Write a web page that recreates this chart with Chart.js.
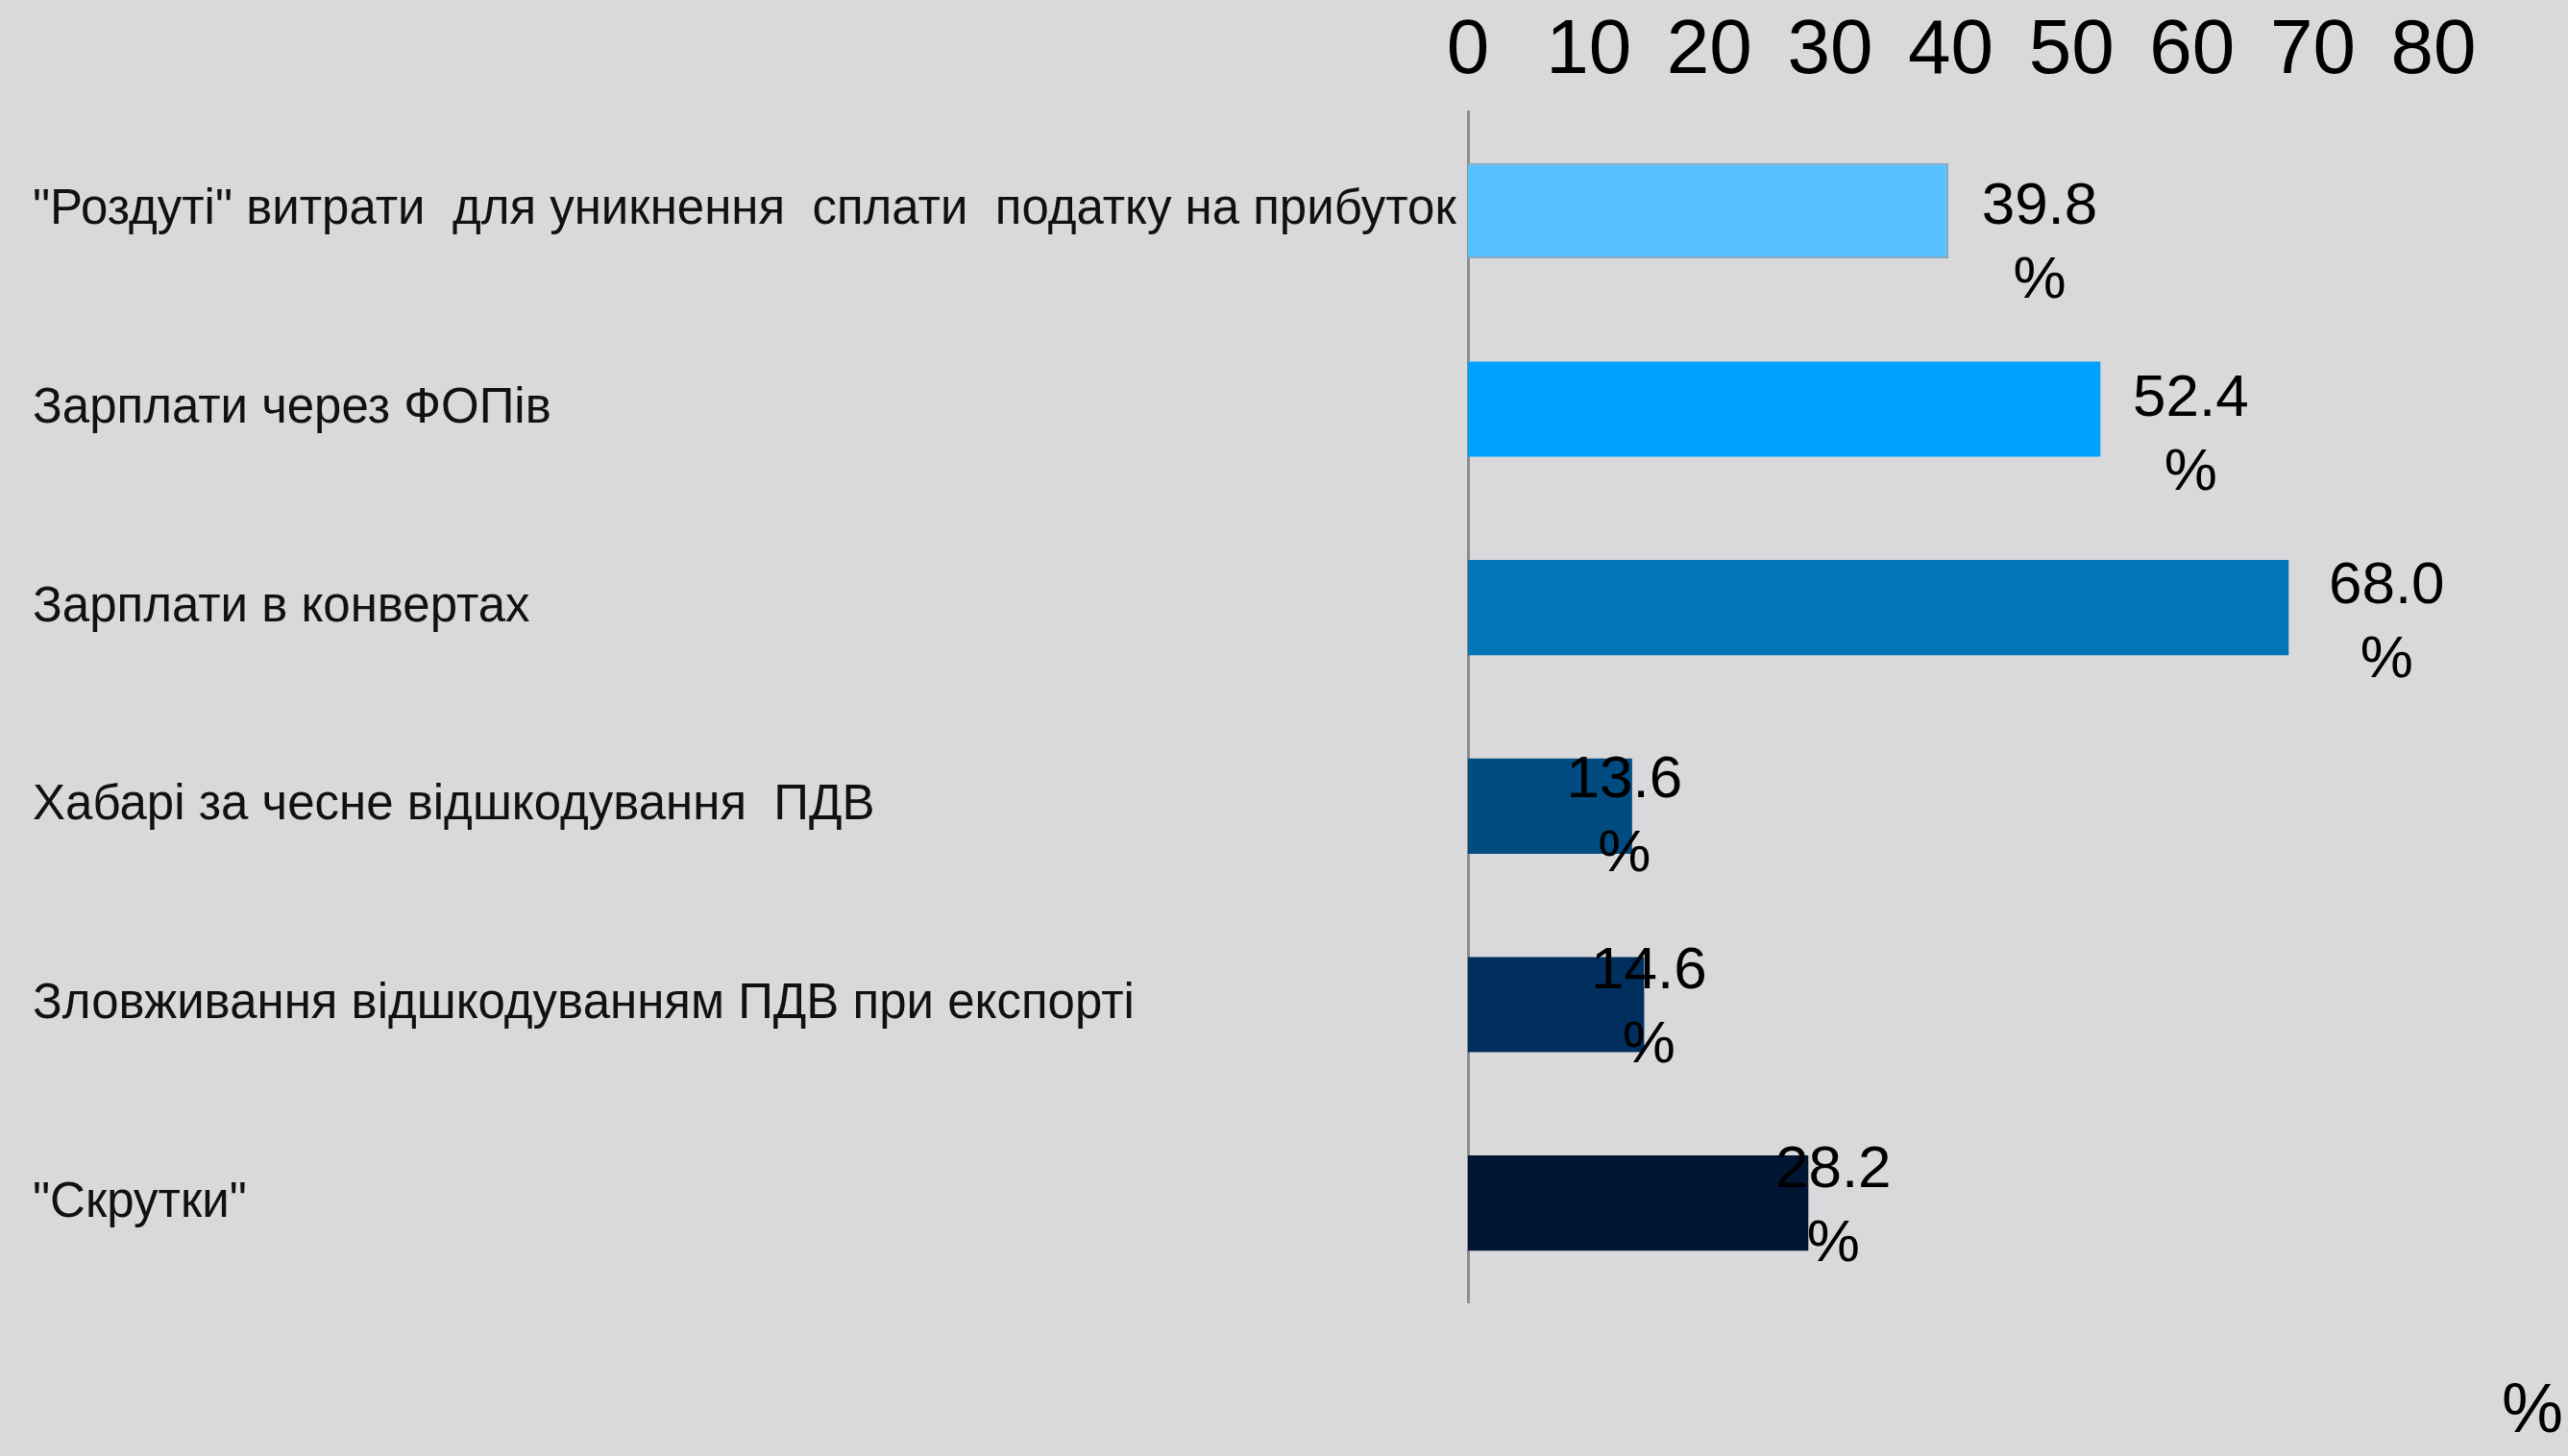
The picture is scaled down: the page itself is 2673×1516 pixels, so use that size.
<!DOCTYPE html>
<html>
<head>
<meta charset="utf-8">
<script src="https://cdn.jsdelivr.net/npm/chart.js@4.4.0/dist/chart.umd.min.js"></script>
<style>
    html, body { margin: 0; padding: 0; background: #d9d9db; }
    #wrap { position: relative; width: 2673px; height: 1516px; }
    #unit {
        position: absolute; left: 2604px; top: 1425px;
        font-family: "Liberation Sans", Arial, sans-serif; font-size: 72px; color: #000;
    }
</style>
</head>
<body>
<div id="wrap">
    <canvas id="chart"></canvas>
    <div id="unit">%</div>
</div>
<script>
const categories = [
    '"Роздуті" витрати  для уникнення  сплати  податку на прибуток',
    'Зарплати через ФОПів',
    'Зарплати в конвертах',
    'Хабарі за чесне відшкодування  ПДВ',
    'Зловживання відшкодуванням ПДВ при експорті',
    '"Скрутки"'
];
const values = [39.8, 52.4, 68.0, 13.6, 14.6, 28.2];
const barColors = ['#58c1ff', '#00a2ff', '#0075b8', '#004b80', '#002f5f', '#001633'];
const tickValues = [0, 10, 20, 30, 40, 50, 60, 70, 80];

// label placement relative to bar end / bar centre (px)
const labelDx = [95, 94, 102, -8, 5, 26];
const labelDy = [-3, -10, -22, -26, -34, -34];
const lineGap = 77;

const valueLabels = {
    id: 'valueLabels',
    afterDatasetsDraw(chart) {
        const ctx = chart.ctx;
        const meta = chart.getDatasetMeta(0);
        ctx.save();
        ctx.font = '62px "Liberation Sans", Arial, sans-serif';
        ctx.fillStyle = '#000';
        ctx.textAlign = 'center';
        ctx.textBaseline = 'middle';
        meta.data.forEach((bar, i) => {
            const x = bar.x + labelDx[i];
            const y = bar.y + labelDy[i];
            ctx.fillText(values[i].toFixed(1), x, y);
            ctx.fillText('%', x, y + lineGap);
        });
        ctx.restore();
    }
};

new Chart(document.getElementById('chart'), {
    type: 'bar',
    data: {
        labels: categories,
        datasets: [{
            data: values,
            backgroundColor: barColors,
            borderColor: ['#86a9c4', ...barColors.slice(1)],
            borderWidth: [2, 0, 0, 0, 0, 0],
            borderSkipped: 'start',
            barPercentage: 0.48,
            categoryPercentage: 1
        }]
    },
    options: {
        indexAxis: 'y',
        responsive: true,
        maintainAspectRatio: false,
        animation: false,
        layout: { padding: { left: 34, right: 140, top: 0, bottom: 160 } },
        plugins: {
            legend: { display: false },
            tooltip: { enabled: false }
        },
        scales: {
            x: {
                position: 'top',
                min: 0,
                max: 80,
                afterBuildTicks: (scale) => { scale.ticks = tickValues.map(v => ({ value: v })); },
                afterFit: (scale) => { scale.height = 116; },
                grid: { display: false, drawTicks: false },
                border: { display: false },
                ticks: {
                    padding: 14,
                    color: '#000',
                    font: { family: '"Liberation Sans", Arial, sans-serif', size: 80 }
                }
            },
            y: {
                afterFit: (scale) => { scale.width = 1494; },
                grid: { display: false, drawTicks: false },
                border: { display: true, color: '#8c8c8c', width: 3 },
                ticks: {
                    crossAlign: 'far',
                    color: '#111',
                    font: { family: '"Liberation Sans", Arial, sans-serif', size: 51 }
                }
            }
        }
    },
    plugins: [valueLabels]
});
</script>
</body>
</html>
